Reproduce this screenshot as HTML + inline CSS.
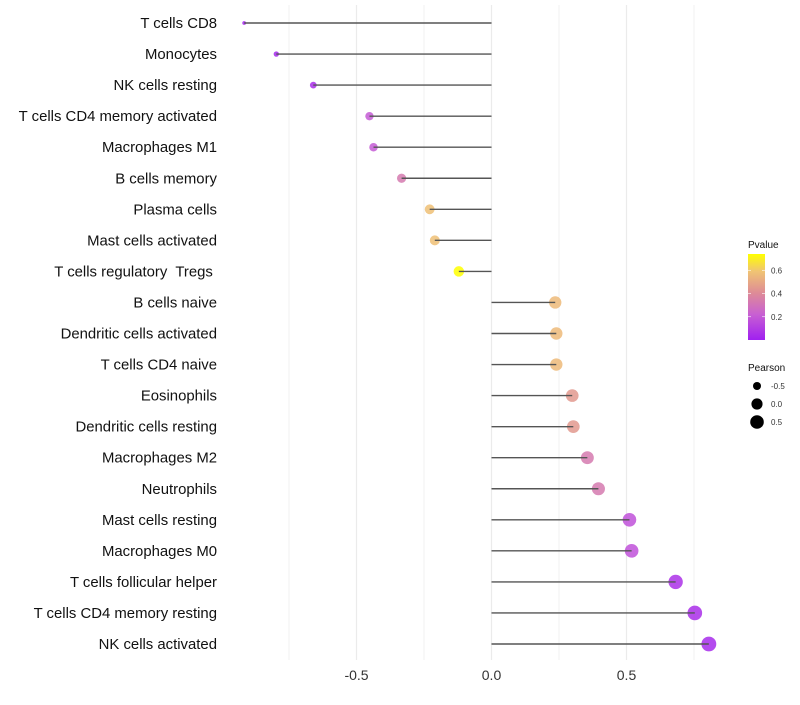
<!DOCTYPE html>
<html><head><meta charset="utf-8"><style>
body{margin:0;background:#fff;font-family:"Liberation Sans",sans-serif}
</style></head><body>
<svg id="c" width="800" height="700" xmlns="http://www.w3.org/2000/svg"></svg>
<script>
const categories=["T cells CD8","Monocytes","NK cells resting","T cells CD4 memory activated","Macrophages M1","B cells memory","Plasma cells","Mast cells activated","T cells regulatory\u00a0 Tregs\u00a0","B cells naive","Dendritic cells activated","T cells CD4 naive","Eosinophils","Dendritic cells resting","Macrophages M2","Neutrophils","Mast cells resting","Macrophages M0","T cells follicular helper","T cells CD4 memory resting","NK cells activated"];
const pearson=[-0.916,-0.797,-0.66,-0.452,-0.437,-0.333,-0.229,-0.21,-0.121,0.236,0.24,0.24,0.299,0.303,0.355,0.396,0.511,0.519,0.682,0.753,0.805];
const pvalue=[0.02,0.03,0.05,0.2,0.2,0.33,0.58,0.58,0.74,0.56,0.56,0.56,0.45,0.45,0.33,0.33,0.17,0.17,0.06,0.05,0.04];
const xTicks=[-0.5,0,0.5];
const xTickLabels=["-0.5","0.0","0.5"];
const colorTicks=[0.2,0.4,0.6];
const sizeTicks=[-0.5,0,0.5];
const sizeTickLabels=["-0.5","0.0","0.5"];

const svg=document.getElementById('c');const NS="http://www.w3.org/2000/svg";
function mk(t,a,p){const e=document.createElementNS(NS,t);for(const k in a)e.setAttribute(k,a[k]);(p||svg).appendChild(e);return e;}
const x=v=>491.5+v*270;
const y=i=>23+i*31.05;
const pMin=0,pMax=0.74;
const stops=[[0,[160,32,240]],[0.3,[200,96,210]],[0.55,[222,140,150]],[0.8,[240,196,115]],[1,[255,255,0]]];
function col(p){let t=Math.max(0,Math.min(1,(p-pMin)/(pMax-pMin)));for(let i=1;i<stops.length;i++){if(t<=stops[i][0]){const a=stops[i-1],b=stops[i];const f=(t-a[0])/(b[0]-a[0]);const c=a[1].map((v,j)=>Math.round(v+(b[1][j]-v)*f));return `rgb(${c})`;}}return 'rgb(255,255,0)';}
const rad=v=>Math.sqrt(3.5+30*(v+0.92));
[-0.75,-0.25,0.25,0.75].forEach(v=>{const g=mk('line',{x1:x(v),x2:x(v),y1:5,y2:660,stroke:'#f0f0f0','stroke-width':1});

});
xTicks.forEach((v,i)=>{const g=mk('line',{x1:x(v),x2:x(v),y1:5,y2:660,stroke:'#ebebeb','stroke-width':1.2});


const t=mk('text',{x:x(v),y:680,'font-size':14,'text-anchor':'middle',fill:'#333'});t.textContent=xTickLabels[i];

});
categories.forEach((c,i)=>{
const t=mk('text',{x:217,y:y(i)+5,'font-size':14.9,'text-anchor':'end',fill:'#111'});t.textContent=c;


const d=mk('circle',{cx:x(pearson[i]),cy:y(i),r:rad(pearson[i]),fill:col(pvalue[i]),'fill-opacity':0.85});


const l=mk('line',{x1:x(0),x2:x(pearson[i]),y1:y(i),y2:y(i),stroke:'#555','stroke-width':1.4});


});
const lt=mk('text',{x:748,y:248,'font-size':10,fill:'#111'});lt.textContent='Pvalue';


const defs=mk('defs',{});const gr=mk('linearGradient',{id:'g',x1:0,y1:1,x2:0,y2:0},defs);
stops.forEach(s=>mk('stop',{offset:s[0],'stop-color':`rgb(${s[1]})`},gr));
const cb=mk('rect',{x:748,y:254,width:17,height:86,fill:'url(#g)'});


const cy=p=>340-(p-pMin)/(pMax-pMin)*86;
colorTicks.forEach(p=>{const t=mk('text',{x:771,y:cy(p)+3,'font-size':8,fill:'#333'});t.textContent=p.toFixed(1);


mk('line',{x1:748,x2:751,y1:cy(p),y2:cy(p),stroke:'#fff','stroke-width':0.6});mk('line',{x1:762,x2:765,y1:cy(p),y2:cy(p),stroke:'#fff','stroke-width':0.6});});
const st=mk('text',{x:748,y:371,'font-size':10,fill:'#111'});st.textContent='Pearson';


sizeTicks.forEach((v,i)=>{const yy=386+i*18;const d=mk('circle',{cx:757,cy:yy,r:rad(v)*1.0,fill:'#000'});


const t=mk('text',{x:771,y:yy+3,'font-size':8,fill:'#333'});t.textContent=sizeTickLabels[i];

});
</script>
</body></html>
